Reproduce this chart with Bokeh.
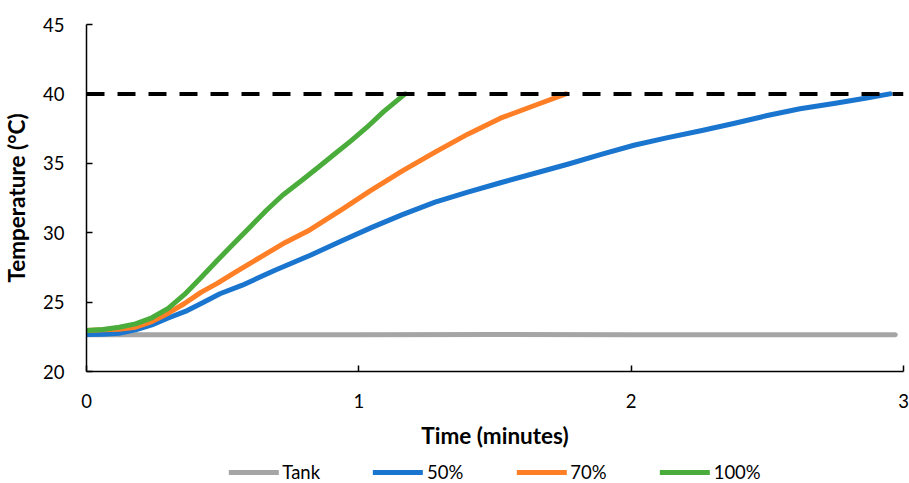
from bokeh.plotting import figure
from bokeh.layouts import column
from bokeh.models import Range1d, FixedTicker, Legend, LegendItem, ColumnDataSource
from bokeh.embed import file_html
from bokeh.resources import INLINE

# Heating runs: time in minutes, temperature in degrees C
tank_t = [0.00, 0.50, 1.00, 1.50, 2.00, 2.50, 2.97]
tank_T = [22.64, 22.65, 22.64, 22.66, 22.65, 22.64, 22.65]

p50_t = [0.00, 0.06, 0.12, 0.18, 0.24, 0.30, 0.37, 0.43, 0.49, 0.57, 0.69, 0.82,
         0.94, 1.05, 1.16, 1.28, 1.40, 1.52, 1.65, 1.77, 1.89, 2.01, 2.13, 2.26,
         2.38, 2.50, 2.62, 2.75, 2.87, 2.95]
p50_T = [22.67, 22.68, 22.76, 23.00, 23.36, 23.85, 24.39, 24.99, 25.60, 26.20, 27.28, 28.36,
         29.44, 30.40, 31.30, 32.20, 32.92, 33.60, 34.30, 34.95, 35.65, 36.30, 36.83, 37.36,
         37.89, 38.44, 38.93, 39.33, 39.72, 40.00]

p70_t = [0.00, 0.06, 0.12, 0.18, 0.24, 0.30, 0.36, 0.42, 0.48, 0.55, 0.61, 0.67,
         0.73, 0.82, 0.94, 1.04, 1.16, 1.28, 1.40, 1.52, 1.65, 1.76]
p70_T = [22.95, 23.00, 23.05, 23.19, 23.60, 24.20, 24.90, 25.70, 26.35, 27.20, 27.90, 28.60,
         29.30, 30.20, 31.70, 33.00, 34.45, 35.80, 37.10, 38.25, 39.20, 40.00]

p100_t = [0.00, 0.06, 0.12, 0.18, 0.24, 0.30, 0.36, 0.42, 0.48, 0.54, 0.60, 0.66,
          0.72, 0.79, 0.85, 0.91, 0.97, 1.03, 1.09, 1.17]
p100_T = [22.95, 23.02, 23.19, 23.43, 23.87, 24.55, 25.55, 26.75, 28.00, 29.20, 30.40, 31.60,
          32.70, 33.76, 34.70, 35.65, 36.60, 37.60, 38.70, 40.00]

# Target temperature
target_t = [0.0, 3.0]
target_T = [40.0, 40.0]

x_ticks = [0, 1, 2, 3]
y_ticks = [20, 25, 30, 35, 40, 45]

FONT = "Lato"

series = [
    ("Tank", tank_t, tank_T, "#a5a5a5"),
    ("50%", p50_t, p50_T, "#1a75cf"),
    ("70%", p70_t, p70_T, "#ff7f27"),
    ("100%", p100_t, p100_T, "#4aad3b"),
]

# --- main chart -------------------------------------------------------------
p = figure(width=909, height=453, output_backend="svg", toolbar_location=None,
           x_range=Range1d(0, 3), y_range=Range1d(20, 45),
           min_border_left=84, min_border_right=6, min_border_top=24,
           min_border_bottom=82)
p.outline_line_color = None
p.grid.grid_line_color = None
p.background_fill_color = "white"
p.border_fill_color = "white"

for ax, ticks in ((p.xaxis, x_ticks), (p.yaxis, y_ticks)):
    ax.ticker = FixedTicker(ticks=ticks)
    ax.minor_tick_line_color = None
    ax.major_tick_in = 6
    ax.major_tick_out = 0
    ax.axis_line_color = "black"
    ax.axis_line_width = 1.5
    ax.major_tick_line_color = "black"
    ax.major_tick_line_width = 1.5
    ax.major_label_text_font = FONT
    ax.major_label_text_font_size = "18.5px"
    ax.major_label_text_color = "black"
    ax.axis_label_text_font = FONT
    ax.axis_label_text_font_size = "22.5px"
    ax.axis_label_text_font_style = "bold"
    ax.axis_label_text_color = "black"

p.xaxis.axis_label = "Time (minutes)"
p.yaxis.axis_label = "Temperature (°C)"
p.xaxis.major_label_standoff = 22
p.xaxis.axis_label_standoff = 11
p.yaxis.major_label_standoff = 22
p.yaxis.axis_label_standoff = 10

for name, t, T, color in series:
    src = ColumnDataSource(dict(t=t, T=T))
    p.line("t", "T", source=src, line_color=color, line_width=5,
           line_cap="round", line_join="round")

p.line(target_t, target_T, line_color="black", line_width=4, line_dash="18 13")

# --- legend strip under the chart -------------------------------------------
# The strip's ranges sit far from the data, so only the legend swatches show.
leg = figure(width=909, height=30, output_backend="svg", toolbar_location=None,
             x_axis_location=None, y_axis_location=None,
             x_range=Range1d(100, 101), y_range=Range1d(100, 101),
             min_border_left=84, min_border_right=6, min_border_top=0,
             min_border_bottom=0)
leg.outline_line_color = None
leg.grid.grid_line_color = None
leg.border_fill_color = "white"
leg.background_fill_color = "white"

items = []
for name, t, T, color in series:
    r = leg.line("t", "T", source=ColumnDataSource(dict(t=t, T=T)),
                 line_color=color, line_width=5, line_cap="round")
    items.append(LegendItem(label=name, renderers=[r]))

legend = Legend(items=items, orientation="horizontal", location="bottom_center",
                padding=0, margin=0, spacing=53, glyph_width=50, glyph_height=20,
                label_standoff=4, label_text_font=FONT, label_text_font_size="18.5px",
                label_text_color="black", border_line_color=None,
                background_fill_alpha=0)
leg.add_layout(legend)

layout = column(p, leg, spacing=0)
open("out.html", "w").write(file_html(layout, INLINE))
